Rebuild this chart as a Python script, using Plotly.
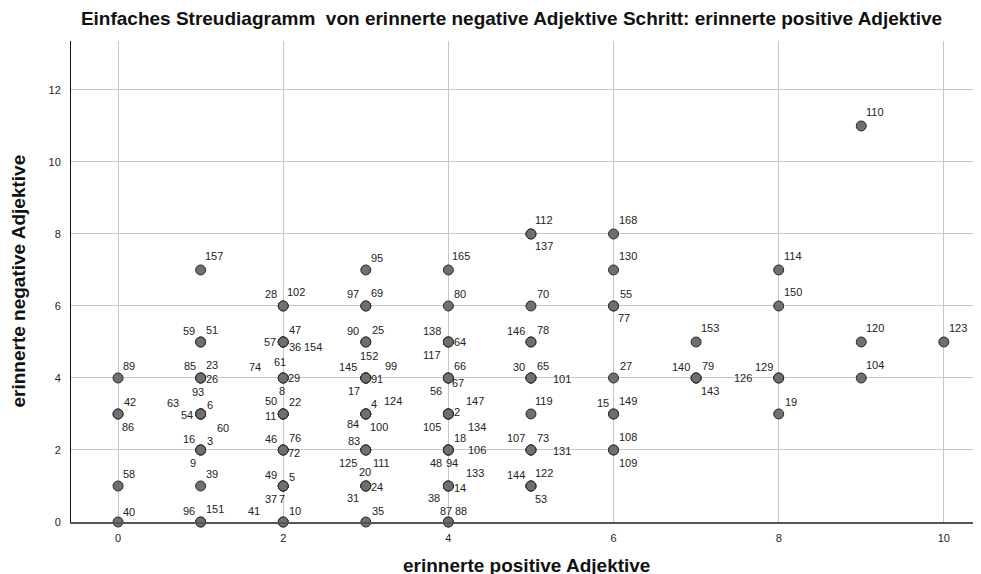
import plotly.graph_objects as go

# ---- data: one entry per labelled case ----
pos_adj = [0, 0, 0, 0, 0,
           1, 1, 1, 1, 1, 1, 1, 1, 1, 1, 1, 1, 1, 1, 1, 1, 1,
           2, 2, 2, 2, 2, 2, 2, 2, 2, 2, 2, 2, 2, 2, 2, 2, 2, 2, 2, 2, 2, 2,
           3, 3, 3, 3, 3, 3, 3, 3, 3, 3, 3, 3, 3, 3, 3, 3, 3, 3, 3, 3, 3,
           4, 4, 4, 4, 4, 4, 4, 4, 4, 4, 4, 4, 4, 4, 4, 4, 4, 4, 4, 4, 4,
           5, 5, 5, 5, 5, 5, 5, 5, 5, 5, 5, 5, 5, 5, 5,
           6, 6, 6, 6, 6, 6, 6, 6, 6,
           7, 7, 7, 7,
           8, 8, 8, 8, 8,
           9, 9, 9,
           10]
neg_adj = [0, 1, 3, 3, 4,
           0, 0, 1, 2, 2, 2, 3, 3, 3, 3, 3, 4, 4, 4, 5, 5, 7,
           0, 0, 1, 1, 1, 1, 2, 2, 2, 3, 3, 3, 3, 4, 4, 4, 5, 5, 5, 5, 6, 6,
           0, 1, 1, 1, 2, 2, 2, 3, 3, 3, 3, 4, 4, 4, 4, 4, 5, 5, 6, 6, 7,
           0, 0, 1, 1, 1, 2, 2, 2, 2, 3, 3, 3, 3, 4, 4, 4, 5, 5, 5, 6, 7,
           1, 1, 1, 2, 2, 2, 3, 4, 4, 4, 5, 5, 6, 8, 8,
           2, 2, 3, 3, 4, 6, 6, 7, 8,
           4, 4, 4, 5,
           3, 4, 4, 6, 7,
           4, 5, 11,
           5]
case_id = [40, 58, 42, 86, 89,
           96, 151, 39, 16, 3, 9, 60, 63, 6, 54, 93, 85, 23, 26, 59, 51, 157,
           41, 10, 37, 7, 49, 5, 46, 76, 72, 50, 22, 11, 8, 74, 61, 29, 57, 47, 36, 154, 28, 102,
           35, 20, 24, 31, 83, 125, 111, 4, 124, 84, 100, 17, 145, 152, 99, 91, 90, 25, 97, 69, 95,
           87, 88, 38, 14, 133, 48, 94, 18, 106, 105, 134, 2, 147, 56, 66, 67, 117, 138, 64, 80, 165,
           144, 122, 53, 107, 73, 131, 119, 30, 65, 101, 146, 78, 70, 112, 137,
           108, 109, 15, 149, 27, 55, 77, 130, 168,
           140, 79, 143, 153,
           19, 129, 126, 150, 114,
           104, 120, 110,
           123]

# ---- label placement (pixel offsets from the marker; dy positive = down) ----
label_dx = [11, 11, 12, 10, 11,
            -12, 14, 11, -12, 9, -8, 22, -28, 9, -14, -3, -11, 11, 11, -12, 11, 13,
            -29, 12, -12.5, -1, -12.5, 8.5, -12.5, 12, 11, -12.5, 12, -12.5, -1, -28, -3, 11, -13, 12, 12, 30, -12.5, 13,
            12, -1, 11, -12.5, -12, -18, 16, 8.5, 27, -12.5, 13.5, -12, -18, 3.5, 25, 11, -12.5, 12, -12.5, 11.5, 11.5,
            -2, 13, -14, 12, 27, -12, 4, 12, 29, -16, 29, 9, 27, -12, 12, 10, -16, -16, 12, 12, 13,
            -15, 13, 10, -15, 12, 31, 13, -12, 12, 31, -15, 12, 12, 13, 13,
            14, 14, -11, 14, 12, 12, 10, 14, 14,
            -15.5, 12, 14, 14,
            12, -15, -36, 14, 14,
            14, 14, 14,
            14]
label_dy = [-10, -12, -12, 13, -12,
            -11, -13, -12, -11, -9, 13, 14, -11, -9, 1, -22, -12, -13, 1, -11, -12, -14,
            -11, -11, 13, 13, -11, -9, -11, -12, 3, -13, -12, 2, -23, -11, -16, 0, 0, -12, 5, 5, -12, -14,
            -11, -14, 1, 12, -9, 13, 13, -10, -13, 10, 13, 13, -11, -22, -12, 1, -11, -12, -12, -13, -12,
            -11, -11, 12, 2, -13, 13, 13, -12, 0, 13, 13, -2, -13, 13, -12, 5, 13, -11, 0, -12, -14,
            -11, -13, 13, -12, -12, 1, -13, -11, -12, 1, -11, -12, -12, -14, 12,
            -13, 13, -11, -13, -12, -12, 12, -14, -14,
            -11, -12, 13, -14,
            -12, -11, 0, -14, -14,
            -13, -14, -14,
            -14]

x_ticks = [0, 2, 4, 6, 8, 10]
y_ticks = [0, 2, 4, 6, 8, 10, 12]

title_text = "Einfaches Streudiagramm\u00a0 von erinnerte negative Adjektive Schritt: erinnerte positive Adjektive"
x_title = "erinnerte positive Adjektive"
y_title = "erinnerte negative Adjektive"

FONT = "Liberation Sans, Arial, sans-serif"

# the page body adds an 8px offset, so the figure is sized/margined to compensate
W, H = 973, 566

fig = go.Figure()
fig.add_trace(go.Scatter(
    x=pos_adj, y=neg_adj, mode="markers",
    marker=dict(size=10, color="#6f6f6f", line=dict(color="#2a2a2a", width=1)),
    cliponaxis=False, hoverinfo="skip", showlegend=False,
))

annotations = []
for xi, yi, cid, dx, dy in zip(pos_adj, neg_adj, case_id, label_dx, label_dy):
    annotations.append(dict(
        x=xi, y=yi, xref="x", yref="y", text=str(cid), showarrow=False,
        xshift=dx, yshift=-dy, xanchor="center", yanchor="middle",
        font=dict(family=FONT, size=11, color="#222222"),
    ))

annotations.append(dict(
    x=0.5, y=0, xref="paper", yref="paper", yshift=-43, text=x_title,
    showarrow=False, xanchor="center", yanchor="middle",
    font=dict(family=FONT, size=19, color="#111111", weight="bold"),
))
annotations.append(dict(
    x=0, y=0.5, xref="paper", yref="paper", xshift=-53, text=y_title,
    showarrow=False, xanchor="center", yanchor="middle", textangle=-90,
    font=dict(family=FONT, size=19, color="#111111", weight="bold"),
))

fig.update_layout(
    width=W, height=H,
    margin=dict(l=63, r=0, t=33, b=52),
    paper_bgcolor="white", plot_bgcolor="white",
    title=dict(text=title_text, x=503.5 / W, xanchor="center", y=1 - 10 / H, yanchor="middle",
               font=dict(family=FONT, size=19, color="#111111", weight="bold")),
    annotations=annotations,
    xaxis=dict(range=[-0.57, 10.45], tickvals=x_ticks, showgrid=True, gridcolor="#c8c8c8",
               gridwidth=1, zeroline=False, showline=True, linecolor="#555555", linewidth=2,
               ticks="", ticklabelstandoff=5, automargin=False,
               tickfont=dict(family=FONT, size=11, color="#222222")),
    yaxis=dict(range=[0, 13.36], tickvals=y_ticks, showgrid=True, gridcolor="#c8c8c8",
               gridwidth=1, zeroline=False, showline=True, linecolor="#111111", linewidth=1,
               ticks="", ticklabelstandoff=7, automargin=False,
               tickfont=dict(family=FONT, size=11, color="#222222")),
)

fig.write_html("out.html")
